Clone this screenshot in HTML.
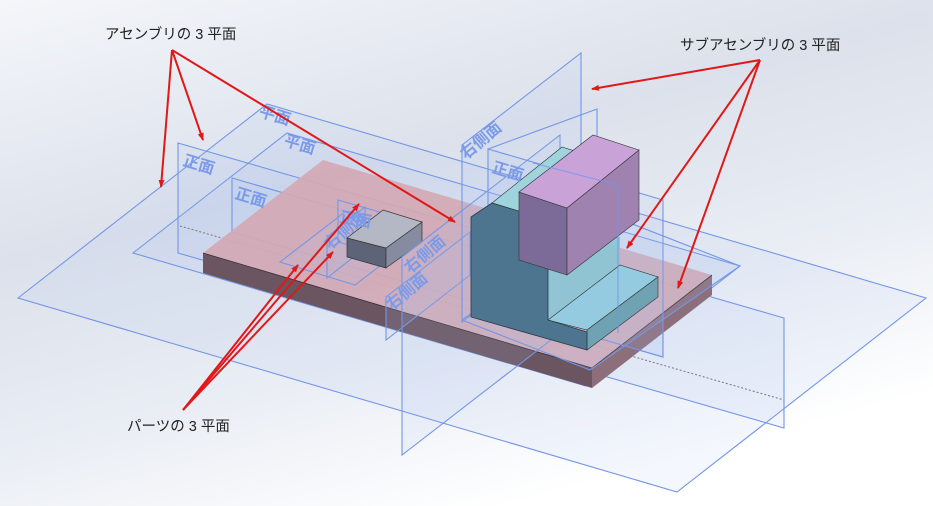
<!DOCTYPE html>
<html><head><meta charset="utf-8"><style>
html,body{margin:0;padding:0;}
body{width:933px;height:506px;overflow:hidden;background:linear-gradient(165deg,#f4f6fa 0%,#dce1eb 35%,#e9edf4 60%,#ffffff 85%);}
svg{display:block}
.pl{fill:rgba(170,195,240,0.13);stroke:#7496e6;stroke-width:1.1}
.ln{fill:none;stroke:#7496e6;stroke-width:1.1}
.lb{font-family:"Liberation Sans","Noto Sans CJK JP",sans-serif;fill:#7b9be8;font-size:16px;font-weight:bold}
.t{font-family:"Liberation Sans","Noto Sans CJK JP",sans-serif;fill:#222;font-size:14.5px}
.ar{stroke:#e01818;stroke-width:2;fill:none}
</style></head><body>
<svg width="933" height="506" viewBox="0 0 933 506" xmlns="http://www.w3.org/2000/svg">
<defs><marker id="a" markerWidth="8" markerHeight="8" refX="7" refY="4" orient="auto" markerUnits="userSpaceOnUse"><path d="M0,1 L8,4 L0,7 Z" fill="#e01818"/></marker></defs>
<polygon class="pl" points="18,298 267,104 926,298 677,492"/>
<polygon class="pl" points="133,253 287,133 740,266 586,386"/>
<polygon class="pl" points="178,143 784,318 784,428 178,253"/>
<line x1="180" y1="226" x2="784" y2="400" stroke="#777" stroke-dasharray="2,2"/>
<polygon class="pl" points="232,178 663,303 663,357 232,232"/>
<polygon points="203,253 592,368 592,388 203,273" fill="#6b5560"/>
<polygon points="592,368 712,275 712,295 592,388" fill="#8d6f7c"/>
<polygon points="203,253 323,160 712,275 592,368" fill="#d3a9b4" opacity="0.92"/>
<polyline points="203,253 592,368 712,275" fill="none" stroke="#3a3036" stroke-width="0.8"/>
<polygon class="pl" points="280,262 345,212 420,235 355,285"/>
<polygon class="pl" points="338,200 383,213 383,255 338,242"/>
<polygon class="pl" points="327,237 365,207 365,248 327,278"/>
<polygon points="347,238 386,248 386,268 347,257" fill="#5e6478" stroke="#333" stroke-width="0.7"/>
<polygon points="386,248 422,222 422,242 386,268" fill="#868ca0" stroke="#333" stroke-width="0.7"/>
<polygon points="347,238 383,210 422,222 386,248" fill="#b4b7c4" stroke="#333" stroke-width="0.7"/>
<polygon class="pl" points="386,297 470,232 470,275 386,340"/>
<polygon class="pl" points="402,257 560,135 560,333 402,455"/>
<polygon class="pl" points="462,145 581,53 581,230 462,322"/>
<polygon class="pl" points="488,149 663,200 663,357 488,306"/>
<polyline class="ln" points="488,149 597,109 597,140"/>
<polygon class="pl" points="462,320 612,216 740,266 590,370"/>
<polygon points="548,220 567,208 620,237 620,267 548,320" fill="#8ec5d4" opacity="0.95"/>
<polygon points="492,203 562,147 578,152 519,192 548,220" fill="#9fd4dc" stroke="#333" stroke-width="0.6"/>
<polygon points="548,320 620,265 658,277 587,330" fill="#94cbe0" stroke="#333" stroke-width="0.6"/>
<polygon points="587,330 658,277 658,297 587,350" fill="#6fa2b2" stroke="#333" stroke-width="0.6"/>
<polygon points="471,217 492,203 548,220 548,320 587,332 587,350 471,317" fill="#4d7590" stroke="#2a3a44" stroke-width="0.8"/>
<polygon points="519,192 567,208 567,275 519,260" fill="#7c6a98" stroke="#333" stroke-width="0.6"/>
<polygon points="567,208 639,150 639,220 567,275" fill="#a082b0" stroke="#333" stroke-width="0.6"/>
<polygon points="519,192 593,135 639,150 567,208" fill="#c9a2d8" stroke="#333" stroke-width="0.6"/>
<polyline class="ln" points="533,163 618,185 618,333" opacity="0.85"/>
<text class="lb" transform="translate(258,116) rotate(17)">平面</text>
<text class="lb" transform="translate(283,145) rotate(17)">平面</text>
<text class="lb" transform="translate(182,165) rotate(17)">正面</text>
<text class="lb" transform="translate(234,198) rotate(17)">正面</text>
<text class="lb" transform="translate(491,172) rotate(17)">正面</text>
<text class="lb" transform="translate(466,160) rotate(-40)">右側面</text>
<text class="lb" transform="translate(410,274) rotate(-40)">右側面</text>
<text class="lb" transform="translate(392,311) rotate(-40)">右側面</text>
<text class="lb" transform="translate(339,222) rotate(10)" font-size="13">正面</text>
<text class="lb" transform="translate(330,250) rotate(-40)" font-size="12">右側面</text>
<text class="t" x="105" y="39">アセンブリの 3 平面</text>
<text class="t" x="680" y="50">サブアセンブリの 3 平面</text>
<text class="t" x="127" y="431">パーツの 3 平面</text>
<line class="ar" marker-end="url(#a)" x1="172" y1="50" x2="161" y2="187"/>
<line class="ar" marker-end="url(#a)" x1="172" y1="50" x2="203" y2="140"/>
<line class="ar" marker-end="url(#a)" x1="172" y1="50" x2="455" y2="222"/>
<line class="ar" marker-end="url(#a)" x1="760" y1="60" x2="592" y2="89"/>
<line class="ar" marker-end="url(#a)" x1="760" y1="60" x2="627" y2="248"/>
<line class="ar" marker-end="url(#a)" x1="760" y1="60" x2="678" y2="288"/>
<line class="ar" marker-end="url(#a)" x1="183" y1="410" x2="298" y2="265"/>
<line class="ar" marker-end="url(#a)" x1="183" y1="410" x2="333" y2="252"/>
<line class="ar" marker-end="url(#a)" x1="183" y1="410" x2="359" y2="204"/>
</svg>
</body></html>
